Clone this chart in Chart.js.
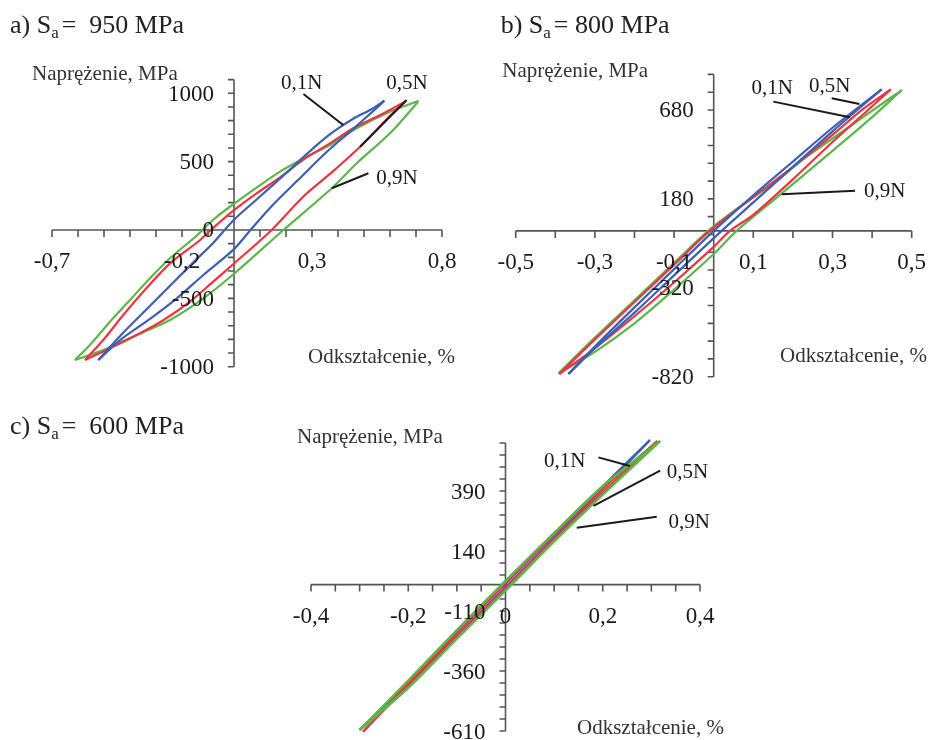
<!DOCTYPE html>
<html>
<head>
<meta charset="utf-8">
<script src="https://cdn.jsdelivr.net/npm/chart.js@4.4.0/dist/chart.umd.min.js"></script>
<style>
  html, body { margin: 0; padding: 0; background: #fff; }
  body { width: 930px; height: 740px; position: relative; overflow: hidden; }
  canvas { position: absolute; }
</style>
</head>
<body>
<canvas id="chartA" width="465" height="390" style="left:0;top:0"></canvas>
<canvas id="chartB" width="465" height="390" style="left:465px;top:0"></canvas>
<canvas id="chartC" width="930" height="350" style="left:0;top:390px"></canvas>
<script>
// series names (cycle fraction)
const seriesNames = ['0,1N', '0,5N', '0,9N']
const colors = ['#3d5fb4', '#ec3540', '#5bb748']

// a) Sa = 950 MPa  -- loops: up the upper branch from the bottom tip, back down the lower branch
const aStrain01 = [-0.522, -0.438, -0.336, -0.246, -0.157, -0.08, 0, 0.1, 0.2, 0.3, 0.38, 0.46, 0.53, 0.578,
  0.55, 0.45, 0.356, 0.254, 0.15, 0.07, 0, -0.118, -0.22, -0.323, -0.438, -0.522]
const aStress01 = [-951, -775, -580, -408, -238, -95, 75, 245, 415, 590, 715, 815, 885, 946,
  895, 725, 570, 380, 185, 15, -140, -329, -500, -650, -805, -951]
const aStrain05 = [-0.573, -0.503, -0.426, -0.349, -0.246, -0.131, -0.092, 0, 0.087, 0.177, 0.267, 0.369, 0.459, 0.562, 0.658,
  0.6, 0.485, 0.369, 0.267, 0.145, 0, -0.08, -0.169, -0.272, -0.374, -0.477, -0.573]
const aStress05 = [-951, -805, -622, -451, -244, -75, -5, 145, 268, 385, 515, 634, 744, 841, 939,
  835, 609, 410, 245, 0, -245, -378, -524, -660, -768, -865, -951]
const aStrain09 = [-0.612, -0.554, -0.477, -0.4, -0.323, -0.246, -0.143, -0.08, 0, 0.177, 0.28, 0.369, 0.472, 0.6, 0.709,
  0.703, 0.6, 0.472, 0.376, 0.19, 0, -0.118, -0.246, -0.374, -0.503, -0.612]
const aStress09 = [-951, -841, -671, -512, -353, -207, -40, 75, 192, 427, 536, 622, 744, 865, 944,
  927, 707, 488, 305, 0, -320, -500, -658, -768, -878, -951]

// b) Sa = 800 MPa
const bStrain01 = [-0.367, -0.3, -0.2, -0.1, 0, 0.1, 0.2, 0.3, 0.424, 0.3, 0.2, 0.1, 0.02, -0.1, -0.2, -0.3, -0.367]
const bStress01 = [-805, -650, -430, -215, 0, 200, 390, 580, 796, 560, 360, 160, 0, -250, -460, -660, -805]
const bStrain05 = [-0.39, -0.3, -0.2, -0.1, -0.01, 0.1, 0.2, 0.3, 0.38, 0.447, 0.38, 0.3, 0.2, 0.1, 0.041, 0, -0.1, -0.2, -0.3, -0.39]
const bStress05 = [-805, -610, -400, -190, 0, 190, 360, 540, 690, 795, 660, 500, 290, 90, 0, -90, -290, -480, -660, -805]
const bStrain09 = [-0.392, -0.3, -0.2, -0.1, -0.014, 0.066, 0.151, 0.235, 0.319, 0.403, 0.475, 0.4, 0.3, 0.172, 0.058, 0, -0.1, -0.2, -0.3, -0.392]
const bStress09 = [-801, -600, -390, -180, 0, 136, 268, 417, 549, 680, 792, 640, 450, 211, 0, -130, -330, -520, -680, -801]

// c) Sa = 600 MPa
const cStrain01 = [-0.3, -0.2, -0.1, 0, 0.1, 0.2, 0.297, 0.2, 0.1, 0, -0.1, -0.2, -0.3]
const cStress01 = [-606, -405, -200, 5, 208, 410, 602, 398, 195, -10, -212, -415, -606]
const cStrain05 = [-0.293, -0.2, -0.1, 0, 0.1, 0.2, 0.312, 0.2, 0.1, 0, -0.1, -0.2, -0.293]
const cStress05 = [-613, -410, -200, 8, 210, 400, 598, 385, 190, -15, -215, -420, -613]
const cStrain09 = [-0.3, -0.2, -0.1, 0, 0.1, 0.2, 0.318, 0.2, 0.1, 0, -0.1, -0.2, -0.3]
const cStress09 = [-606, -400, -190, 15, 215, 410, 598, 375, 180, -25, -225, -430, -606]

// tick labels
const aXLabels = [-0.7, -0.2, 0.3, 0.8]
const aYLabels = [1000, 500, 0, -500, -1000]
const bXLabels = [-0.5, -0.3, -0.1, 0.1, 0.3, 0.5]
const bYLabels = [680, 180, -320, -820]
const cXLabels = [-0.4, -0.2, 0, 0.2, 0.4]
const cYLabels = [390, 140, -110, -360, -610]

// series labels with leader lines (data units)
const aNoteX = [0.26, 0.665, 0.627], aNoteY = [1083, 1083, 384]
const aLeadFrom = [[0.267, 995], [0.664, 951], [0.517, 415]]
const aLeadTo = [[0.42, 768], [0.485, 609], [0.376, 305]]
const bNoteX = [0.148, 0.293, 0.432], bNoteY = [807, 818, 230]
const bLeadFrom = [[0.1505, 727], [0.298, 746], [0.357, 226]]
const bLeadTo = [[0.344, 639], [0.368, 714], [0.172, 206]]
const cNoteX = [0.122, 0.374, 0.378], cNoteY = [519, 473, 265]
const cLeadFrom = [[0.191, 530], [0.318, 475], [0.311, 283]]
const cLeadTo = [[0.256, 494], [0.181, 328], [0.1465, 237]]

const serif = '"Liberation Serif", "Times New Roman", serif'

const pts = (xs, ys) => xs.map((x, i) => ({x: x, y: ys[i]}))

// split a loop at its top tip into the two branches
const branches = (xs, ys) => {
    const k = xs.indexOf(Math.max(...xs))
    return [pts(xs.slice(0, k + 1), ys.slice(0, k + 1)), pts(xs.slice(k), ys.slice(k))]
}

const fmtX = v => (v === 0 ? '0' : v.toFixed(1).replace('.', ','))

const drawTitle = (ctx, x, y, letter, rest) => {
    ctx.fillStyle = '#222'
    ctx.textAlign = 'left'
    ctx.textBaseline = 'alphabetic'
    ctx.font = `26px ${serif}`
    const head = letter + ') S'
    ctx.fillText(head, x, y)
    x += ctx.measureText(head).width
    ctx.font = `17px ${serif}`
    ctx.fillText('a', x, y + 5)
    x += ctx.measureText('a').width + 3
    ctx.font = `26px ${serif}`
    ctx.fillText(rest, x, y)
}

const makePanel = (cfg) => ({
    id: 'panel' + cfg.letter,
    beforeDatasetsDraw (chart) {
        const {ctx, scales: {x, y}} = chart
        const x0 = x.getPixelForValue(0)
        const y0 = y.getPixelForValue(0)
        ctx.save()
        ctx.strokeStyle = '#555'
        ctx.lineWidth = 1.6
        ctx.beginPath()
        ctx.moveTo(x.getPixelForValue(x.min), y0)
        ctx.lineTo(x.getPixelForValue(x.max), y0)
        ctx.moveTo(x0, y.getPixelForValue(y.max))
        ctx.lineTo(x0, y.getPixelForValue(y.min))
        const nx = Math.round((x.max - x.min) / cfg.xStep)
        for (let i = 0; i <= nx; i++) {
            const px = x.getPixelForValue(x.min + i * cfg.xStep)
            ctx.moveTo(px, y0)
            ctx.lineTo(px, y0 + 7)
        }
        const ny = Math.round((y.max - y.min) / cfg.yStep)
        for (let i = 0; i <= ny; i++) {
            const py = y.getPixelForValue(y.min + i * cfg.yStep)
            ctx.moveTo(x0, py)
            ctx.lineTo(x0 - 6, py)
        }
        ctx.stroke()
        ctx.restore()
    },
    afterDatasetsDraw (chart) {
        const {ctx, scales: {x, y}} = chart
        const x0 = x.getPixelForValue(0)
        const y0 = y.getPixelForValue(0)
        ctx.save()
        ctx.font = `23px ${serif}`
        ctx.fillStyle = '#1a1a1a'
        ctx.textBaseline = 'alphabetic'
        ctx.textAlign = 'center'
        cfg.xLabels.forEach(v => ctx.fillText(fmtX(v), x.getPixelForValue(v), y0 + 38))
        ctx.textAlign = 'right'
        cfg.yLabels.forEach(v => ctx.fillText(String(v), x0 - 20, y.getPixelForValue(v) + 7.5))

        // axis titles
        ctx.font = `21px ${serif}`
        ctx.fillStyle = '#333'
        ctx.textAlign = 'left'
        ctx.fillText('Naprężenie, MPa', cfg.yTitle[0], cfg.yTitle[1])
        ctx.fillText('Odkształcenie, %', cfg.xTitle[0], cfg.xTitle[1])

        // leader lines and series labels
        ctx.strokeStyle = '#1a1a1a'
        ctx.lineWidth = 2
        ctx.beginPath()
        cfg.leadFrom.forEach((p, i) => {
            const q = cfg.leadTo[i]
            ctx.moveTo(x.getPixelForValue(p[0]), y.getPixelForValue(p[1]))
            ctx.lineTo(x.getPixelForValue(q[0]), y.getPixelForValue(q[1]))
        })
        ctx.stroke()
        ctx.font = `21px ${serif}`
        ctx.fillStyle = '#1a1a1a'
        ctx.textAlign = 'center'
        seriesNames.forEach((s, i) => {
            ctx.fillText(s, x.getPixelForValue(cfg.noteX[i]), y.getPixelForValue(cfg.noteY[i]) + 7)
        })

        drawTitle(ctx, cfg.title[0], cfg.title[1], cfg.letter, cfg.titleRest)
        ctx.restore()
    }
})

const branchSet = (label, data, color, width) => ({
    label, data,
    showLine: true,
    borderColor: color,
    backgroundColor: color,
    borderWidth: width,
    pointRadius: 0,
    tension: 0.3,
    fill: false,
    clip: false
})

// both branches of one loop, same colour
const loopSets = (label, xs, ys, color, width) =>
    branches(xs, ys).map(part => branchSet(label, part, color, width))

const makeChart = (id, datasets, xRange, yRange, padding, panel) => new Chart(document.getElementById(id), {
    type: 'scatter',
    data: {datasets},
    options: {
        responsive: false,
        animation: false,
        events: [],
        layout: {padding},
        plugins: {legend: {display: false}, tooltip: {enabled: false}},
        scales: {
            x: {type: 'linear', min: xRange[0], max: xRange[1], display: false},
            y: {type: 'linear', min: yRange[0], max: yRange[1], display: false}
        }
    },
    plugins: [makePanel(panel)]
})

makeChart('chartA', [
    ...loopSets(seriesNames[0], aStrain01, aStress01, colors[0], 2.2),
    ...loopSets(seriesNames[1], aStrain05, aStress05, colors[1], 2.2),
    ...loopSets(seriesNames[2], aStrain09, aStress09, colors[2], 2.2)
], [-0.7, 0.8], [-1000, 1100], {left: 52, right: 23, top: 79.6, bottom: 23.3}, {
    letter: 'a', titleRest: '=  950 MPa', title: [10, 33],
    xStep: 0.1, yStep: 100, xLabels: aXLabels, yLabels: aYLabels,
    yTitle: [32, 80], xTitle: [308, 363],
    noteX: aNoteX, noteY: aNoteY, leadFrom: aLeadFrom, leadTo: aLeadTo
})

makeChart('chartB', [
    ...loopSets(seriesNames[0], bStrain01, bStress01, colors[0], 2.2),
    ...loopSets(seriesNames[1], bStrain05, bStress05, colors[1], 2.2),
    ...loopSets(seriesNames[2], bStrain09, bStress09, colors[2], 2.2)
], [-0.5, 0.5], [-820, 880], {left: 50.7, right: 18.3, top: 74.4, bottom: 13.3}, {
    letter: 'b', titleRest: '= 800 MPa', title: [35.7, 33],
    xStep: 0.1, yStep: 100, xLabels: bXLabels, yLabels: bYLabels,
    yTitle: [37.3, 77], xTitle: [315, 362],
    noteX: bNoteX, noteY: bNoteY, leadFrom: bLeadFrom, leadTo: bLeadTo
})

makeChart('chartC', [
    ...loopSets(seriesNames[2], cStrain09, cStress09, colors[2], 2.6),
    ...loopSets(seriesNames[1], cStrain05, cStress05, colors[1], 2.2),
    ...loopSets(seriesNames[0], cStrain01, cStress01, colors[0], 2.2)
], [-0.4, 0.4], [-610, 590], {left: 311, right: 230, top: 53, bottom: 9}, {
    letter: 'c', titleRest: '=  600 MPa', title: [10, 44],
    xStep: 0.05, yStep: 50, xLabels: cXLabels, yLabels: cYLabels,
    yTitle: [297, 52.7], xTitle: [577, 344],
    noteX: cNoteX, noteY: cNoteY, leadFrom: cLeadFrom, leadTo: cLeadTo
})
</script>
</body>
</html>
